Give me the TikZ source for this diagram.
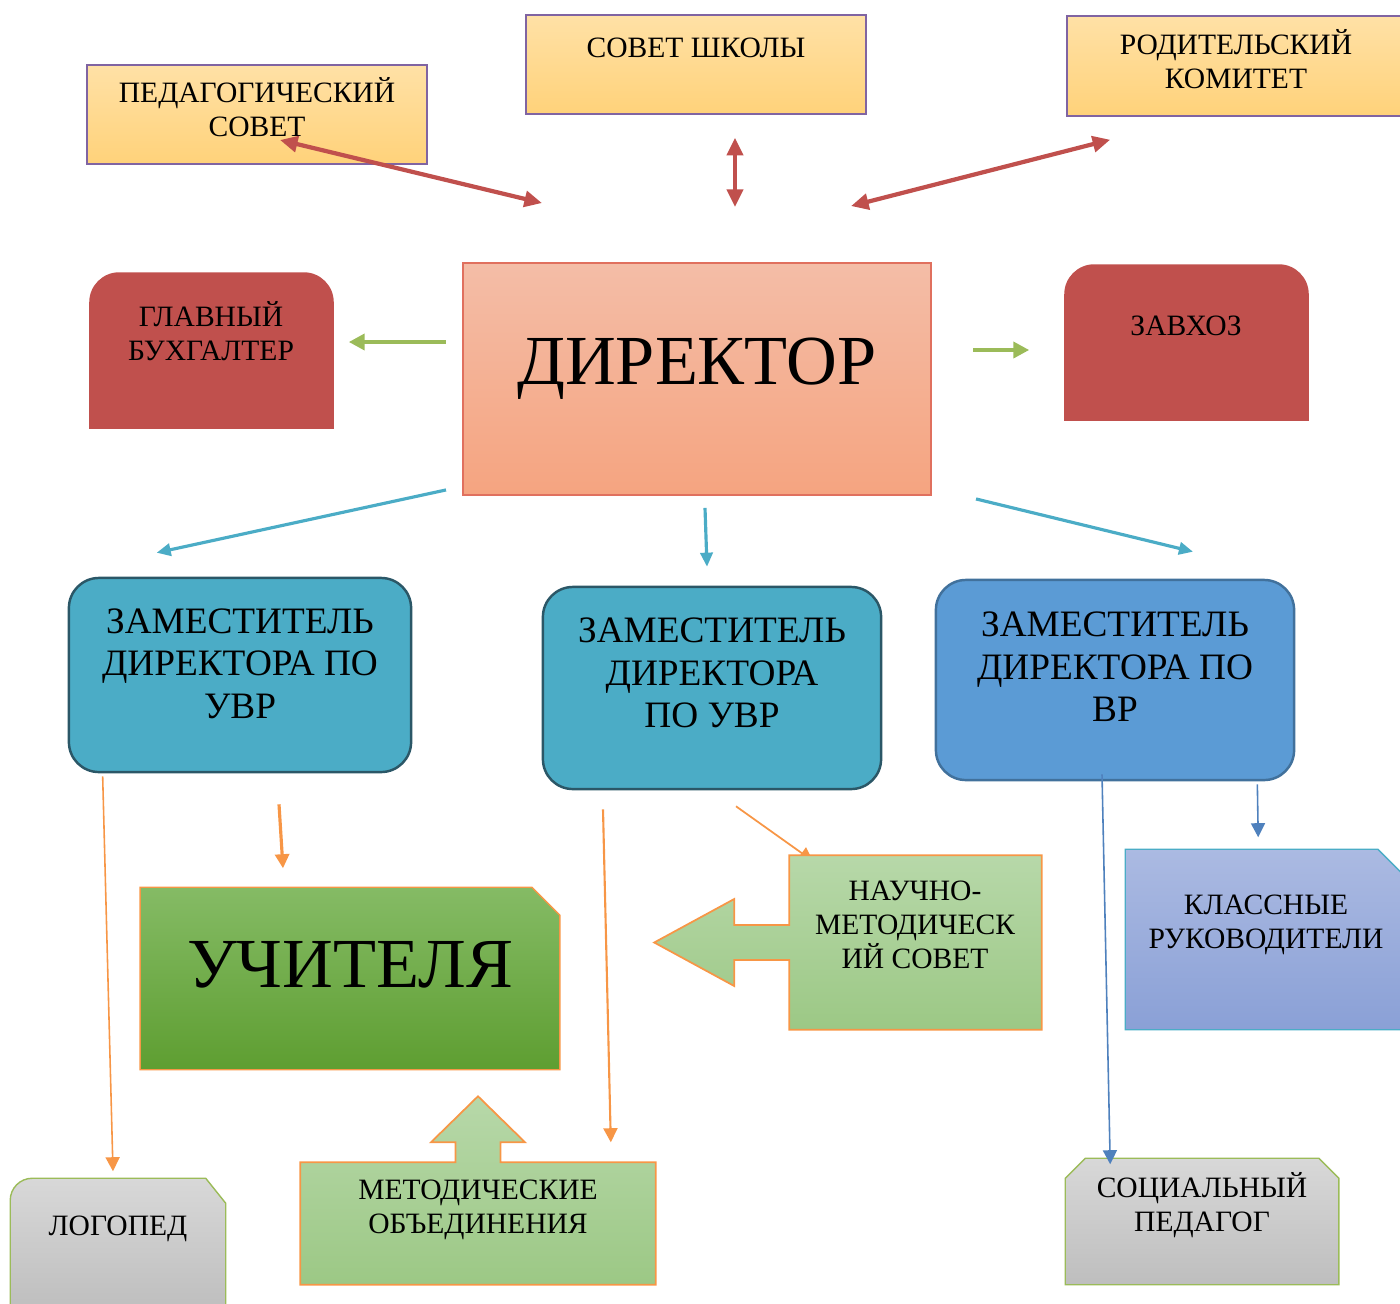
\documentclass[tikz,border=0pt]{standalone}
\usepackage{fontspec}
\setmainfont{Liberation Serif}
\usetikzlibrary{arrows.meta}

\definecolor{councilTop}{HTML}{FFE1A6}
\definecolor{councilBottom}{HTML}{FFD27A}
\definecolor{councilLine}{HTML}{8064A2}
\definecolor{dirTop}{HTML}{F4BDA7}
\definecolor{dirBottom}{HTML}{F5A480}
\definecolor{dirLine}{HTML}{E0705E}
\definecolor{brick}{HTML}{C0504D}
\definecolor{leaf}{HTML}{9BBB59}
\definecolor{aqua}{HTML}{4BACC6}
\definecolor{aquaLine}{HTML}{2B5767}
\definecolor{sky}{HTML}{5B9BD5}
\definecolor{skyLine}{HTML}{41719C}
\definecolor{tangerine}{HTML}{F79646}
\definecolor{steel}{HTML}{4F81BD}
\definecolor{grassTop}{HTML}{85BB65}
\definecolor{grassBottom}{HTML}{5E9E31}
\definecolor{mintTop}{HTML}{B7D8A9}
\definecolor{mintBottom}{HTML}{9CC885}
\definecolor{lilacTop}{HTML}{ABBAE2}
\definecolor{lilacBottom}{HTML}{8AA0D6}
\definecolor{ashTop}{HTML}{D8D8D8}
\definecolor{ashBottom}{HTML}{BEBEBE}

\tikzset{
    every node/.style={align=center, inner sep=0pt},
    txt/.style={font=\fontsize{8.4}{9.7}\selectfont},
    zamtxt/.style={font=\fontsize{10.6}{12.1}\selectfont},
    bigtxt/.style={font=\fontsize{20}{24}\selectfont},
    council/.style={draw=councilLine, line width=0.4pt, top color=councilTop, bottom color=councilBottom},
    director/.style={draw=dirLine, line width=0.5pt, top color=dirTop, bottom color=dirBottom},
    staff/.style={fill=brick},
    deputy/.style={draw=aquaLine, line width=0.7pt, fill=aqua, rounded corners=0.3cm},
    deputyvr/.style={draw=skyLine, line width=0.7pt, fill=sky, rounded corners=0.3cm},
    teachers/.style={draw=tangerine, line width=0.4pt, top color=grassTop, bottom color=grassBottom},
    method/.style={draw=tangerine, line width=0.5pt, top color=mintTop, bottom color=mintBottom},
    classes/.style={draw=aqua, line width=0.4pt, top color=lilacTop, bottom color=lilacBottom},
    single/.style={draw=leaf, line width=0.4pt, top color=ashTop, bottom color=ashBottom},
    redarr/.style={<->, >={Triangle[length=5pt, width=4.5pt]}, draw=brick, line width=1.2pt},
    greenarr/.style={->, >={Triangle[length=4.5pt, width=4.5pt]}, draw=leaf, line width=1.2pt},
    aquaarr/.style={->, >={Triangle[length=4pt, width=3.5pt]}, draw=aqua, line width=0.9pt},
    orangearr/.style={->, >={Triangle[length=4pt, width=4pt]}, draw=tangerine, line width=#1},
    bluearr/.style={->, >={Triangle[length=4pt, width=4pt]}, draw=steel, line width=0.45pt}
}

\begin{document}
\begin{tikzpicture}[x=0.01cm, y=-0.01cm]
\useasboundingbox (0,0) rectangle (1400,1303);

\node[council, minimum width=3.4cm, minimum height=0.99cm] (ped) at (257,114.5) {};
\node[txt] (pedt) at (257,107.5) {ПЕДАГОГИЧЕСКИЙ\\СОВЕТ};
\node[council, minimum width=3.4cm, minimum height=0.99cm] (sov) at (696,64.5) {};
\node[txt] (sovt) at (696,48) {СОВЕТ ШКОЛЫ};
\node[council, minimum width=3.36cm, minimum height=1cm] (rod) at (1235,66) {};
\node[txt] (rodt) at (1236,59) {РОДИТЕЛЬСКИЙ\\КОМИТЕТ};

\node[director, minimum width=4.68cm, minimum height=2.32cm] (dir) at (697,379) {};
\node[bigtxt] (dirt) at (697,369) {ДИРЕКТОР};

\node[minimum width=2.43cm, minimum height=1.55cm] (buh) at (211.5,350.5) {};
\path[staff] (buh.south west) -- ([yshift=-0.3cm]buh.north west)
    arc[start angle=180, end angle=90, radius=0.3cm] -- ([xshift=-0.3cm]buh.north east)
    arc[start angle=90, end angle=0, radius=0.3cm] -- (buh.south east) -- cycle;
\node[txt] (buht) at (211,331.5) {ГЛАВНЫЙ\\БУХГАЛТЕР};
\node[minimum width=2.43cm, minimum height=1.55cm] (zav) at (1186.5,342.5) {};
\path[staff] (zav.south west) -- ([yshift=-0.3cm]zav.north west)
    arc[start angle=180, end angle=90, radius=0.3cm] -- ([xshift=-0.3cm]zav.north east)
    arc[start angle=90, end angle=0, radius=0.3cm] -- (zav.south east) -- cycle;
\node[txt] (zavt) at (1186,326) {ЗАВХОЗ};

\node[deputy, minimum width=3.42cm, minimum height=1.94cm] (z1) at (240,675) {};
\node[zamtxt] (z1t) at (240,663.5) {ЗАМЕСТИТЕЛЬ\\ДИРЕКТОРА ПО\\УВР};
\node[deputy, minimum width=3.38cm, minimum height=2.02cm] (z2) at (712,688) {};
\node[zamtxt] (z2t) at (712,673) {ЗАМЕСТИТЕЛЬ\\ДИРЕКТОРА\\ПО УВР};
\node[deputyvr, minimum width=3.58cm, minimum height=2cm] (z3) at (1115,680) {};
\node[zamtxt] (z3t) at (1115,667) {ЗАМЕСТИТЕЛЬ\\ДИРЕКТОРА ПО\\ВР};

\node[minimum width=4.18cm, minimum height=1.81cm] (uch) at (350,978.5) {};
\path[teachers] (uch.south west) -- (uch.north west) -- ([shift={(-28,0)}]uch.north east)
    -- ([shift={(0,28)}]uch.north east) -- (uch.south east) -- cycle;
\node[bigtxt] (ucht) at (350,965) {УЧИТЕЛЯ};

\node[minimum width=2.51cm, minimum height=1.73cm] (nms) at (915.5,942.5) {};
\draw[orangearr=0.5pt] ([shift={(24,16)}]z2.south) -- ([shift={(24,6)}]nms.north west);
\path[method] (nms.north west) -- (nms.north east) -- (nms.south east) -- (nms.south west)
    -- ([shift={(0,17.5)}]nms.west) -- ([shift={(-55,17.5)}]nms.west) -- ([shift={(-55,43.5)}]nms.west)
    -- ([shift={(-135,0)}]nms.west) -- ([shift={(-55,-43.5)}]nms.west) -- ([shift={(-55,-17.5)}]nms.west)
    -- ([shift={(0,-17.5)}]nms.west) -- cycle;
\node[txt] (nmst) at (915,925) {НАУЧНО-\\МЕТОДИЧЕСК\\ИЙ СОВЕТ};

\node[minimum width=2.94cm, minimum height=1.79cm] (kl) at (1273,939.5) {};
\path[classes] (kl.south west) -- (kl.north west) -- ([xshift=-0.43cm]kl.north east)
    -- ([yshift=-0.43cm]kl.north east) -- (kl.south east) -- cycle;
\node[txt] (klt) at (1266,924.5) {КЛАССНЫЕ\\РУКОВОДИТЕЛИ};

\node[minimum width=2.14cm, minimum height=1.31cm] (log) at (118,1244.5) {};
\path[single] (log.south west) -- ([yshift=-0.22cm]log.north west)
    arc[start angle=180, end angle=90, radius=0.22cm] -- ([xshift=-0.2cm]log.north east)
    -- ([yshift=-0.25cm]log.north east) -- (log.south east) -- cycle;
\node[txt] (logt) at (118,1229) {ЛОГОПЕД};

\node[minimum width=3.54cm, minimum height=1.21cm] (mo) at (478,1223.5) {};
\path[method] (mo.south west) -- (mo.north west) -- ([shift={(-22.5,0)}]mo.north)
    -- ([shift={(-22.5,-20)}]mo.north) -- ([shift={(-47,-20)}]mo.north) -- ([shift={(0,-66)}]mo.north)
    -- ([shift={(47,-20)}]mo.north) -- ([shift={(22.5,-20)}]mo.north) -- ([shift={(22.5,0)}]mo.north)
    -- (mo.north east) -- (mo.south east) -- cycle;
\node[txt] (mot) at (478,1210) {МЕТОДИЧЕСКИЕ\\ОБЪЕДИНЕНИЯ};

\node[minimum width=2.72cm, minimum height=1.25cm] (soc) at (1202,1221.5) {};
\path[single] (soc.south west) -- ([yshift=-0.2cm]soc.north west) -- ([xshift=0.2cm]soc.north west)
    -- ([xshift=-0.2cm]soc.north east) -- ([yshift=-0.2cm]soc.north east) -- (soc.south east) -- cycle;
\node[txt] (soct) at (1202,1205) {СОЦИАЛЬНЫЙ\\ПЕДАГОГ};

\draw[redarr] ([shift={(23,25.5)}]ped.center) -- ([shift={(80,-59)}]dir.north west);
\draw[redarr] ([shift={(39,23)}]sov.south) -- ([shift={(38,-55)}]dir.north);
\draw[redarr] ([shift={(44,23)}]rod.south west) -- ([shift={(-81,-56)}]dir.north east);

\draw[greenarr] ([shift={(-16,-37)}]dir.west) -- ([shift={(15,-8.5)}]buh.east);
\draw[greenarr] ([shift={(41,-29)}]dir.east) -- ([shift={(-35,7.5)}]zav.west);

\draw[aquaarr] ([shift={(-16,-6)}]dir.south west) -- ([shift={(89,-24)}]z1.north west);
\draw[aquaarr] ([shift={(8,12)}]dir.south) -- ([shift={(-5,-19)}]z2.north);
\draw[aquaarr] ([shift={(44,3)}]dir.south east) -- ([shift={(78,-27)}]z3.north);

\draw[orangearr=0.45pt] ([shift={(35,3)}]z1.south west) -- ([shift={(-5,-7)}]log.north);
\draw[orangearr=0.9pt] ([shift={(39,31)}]z1.south) -- ([shift={(-67,-19)}]uch.north);
\draw[orangearr=0.6pt] ([shift={(-109,19)}]z2.south) -- ([shift={(-45,-20)}]mo.north east);

\draw[bluearr] ([shift={(-13,-7)}]z3.south) -- ([shift={(45,6)}]soc.north west);
\draw[bluearr] ([shift={(-38,3)}]z3.south east) -- ([shift={(133,-12)}]kl.north west);
\end{tikzpicture}
\end{document}
